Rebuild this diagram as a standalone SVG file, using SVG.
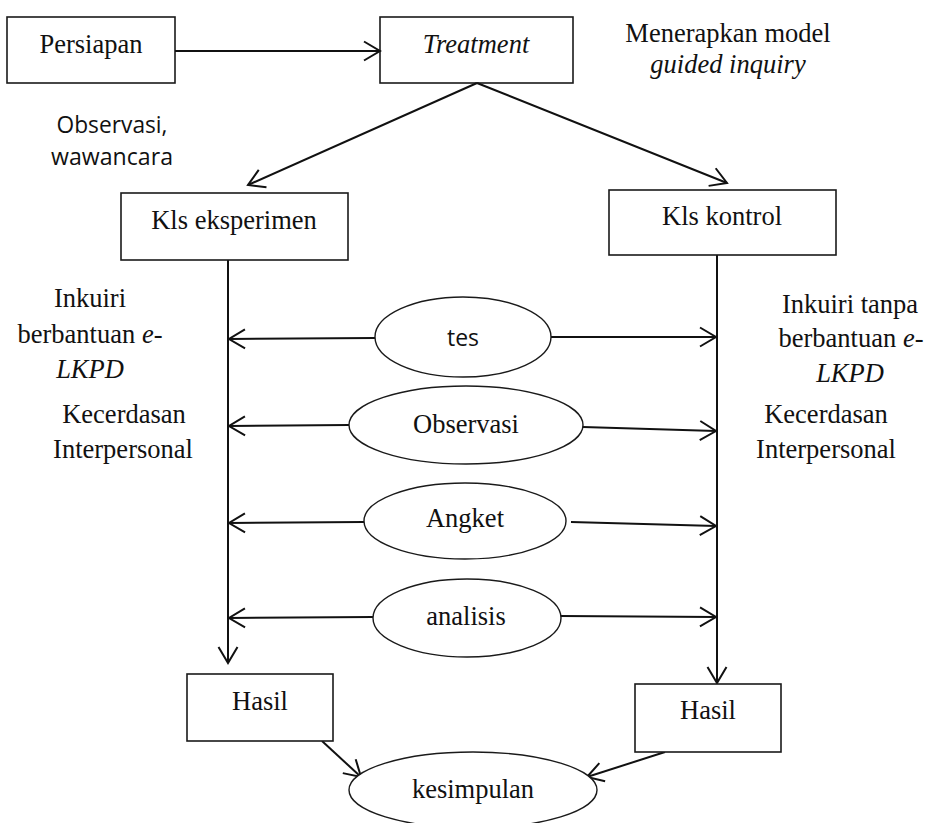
<svg xmlns="http://www.w3.org/2000/svg" width="925" height="823" viewBox="0 0 925 823">
<style>
.box{fill:#fff;stroke:#1a1a1a;stroke-width:1.6}
.ell{fill:#fff;stroke:#1a1a1a;stroke-width:1.4}
.ser{font-family:"Liberation Serif","Times New Roman",serif;font-size:26.5px;fill:#111;text-anchor:middle}
.it{font-style:italic}
.sans{font-family:"Open Sans","Noto Sans",sans-serif;font-size:23.5px;fill:#111;text-anchor:middle}
.con line{stroke:#111;stroke-width:2;fill:none;marker-end:url(#arr)}
</style>
<defs>
<marker id="arr" markerUnits="userSpaceOnUse" viewBox="-19 -11 21 22" markerWidth="21" markerHeight="22" refX="0" refY="0" orient="auto">
<path d="M-16,-9.5 L0,0 L-16,9.5" fill="none" stroke="#111" stroke-width="2"/>
</marker>
</defs>
<rect width="925" height="823" fill="#fff"/>

<g id="persiapan"><rect class="box" x="7" y="17" width="168" height="66"/><text class="ser" x="91" y="53">Persiapan</text></g>
<g id="treatment"><rect class="box" x="380" y="17" width="193" height="66"/><text class="ser it" x="476" y="53">Treatment</text></g>
<g id="note-model"><text class="ser" x="728" y="42">Menerapkan model</text><text class="ser it" x="728" y="73">guided inquiry</text></g>
<g id="note-obs"><text class="sans" x="112" y="133" textLength="111" lengthAdjust="spacingAndGlyphs">Observasi,</text><text class="sans" x="112" y="165" textLength="122" lengthAdjust="spacingAndGlyphs">wawancara</text></g>

<g class="con" id="connectors">
<line x1="175" y1="51" x2="380" y2="51"/>
<line x1="477" y1="83" x2="248" y2="185"/>
<line x1="477" y1="83" x2="727" y2="183"/>
<line x1="228" y1="255" x2="228" y2="663"/>
<line x1="717" y1="252" x2="717" y2="683"/>
<line x1="375" y1="338" x2="229" y2="339"/>
<line x1="551" y1="337" x2="716" y2="337"/>
<line x1="349" y1="425" x2="229" y2="426"/>
<line x1="583" y1="427" x2="716" y2="431"/>
<line x1="364" y1="522" x2="229" y2="523"/>
<line x1="571" y1="522" x2="716" y2="526"/>
<line x1="373" y1="617" x2="229" y2="618"/>
<line x1="561" y1="616" x2="716" y2="617"/>
<line x1="322" y1="741" x2="361" y2="777"/>
<line x1="665" y1="752" x2="587" y2="777"/>
</g>

<g id="kls-eksperimen"><rect class="box" x="121" y="193" width="227" height="67"/><text class="ser" x="234" y="229">Kls eksperimen</text></g>
<g id="kls-kontrol"><rect class="box" x="609" y="190" width="227" height="65"/><text class="ser" x="722" y="225">Kls kontrol</text></g>

<g id="label-left"><text class="ser" x="90" y="307">Inkuiri</text><text class="ser" x="90" y="343">berbantuan <tspan class="it">e</tspan>-</text><text class="ser it" x="90" y="378">LKPD</text><text class="ser" x="124" y="423">Kecerdasan</text><text class="ser" x="123" y="458">Interpersonal</text></g>
<g id="label-right"><text class="ser" x="850" y="313">Inkuiri tanpa</text><text class="ser" x="851" y="347">berbantuan <tspan class="it">e</tspan>-</text><text class="ser it" x="850" y="382">LKPD</text><text class="ser" x="826" y="423">Kecerdasan</text><text class="ser" x="826" y="458">Interpersonal</text></g>

<g id="tes"><ellipse class="ell" cx="463" cy="337" rx="88" ry="40"/><text class="sans" x="463" y="346" textLength="32" lengthAdjust="spacingAndGlyphs">tes</text></g>
<g id="observasi"><ellipse class="ell" cx="466" cy="425" rx="117" ry="39"/><text class="ser" x="466" y="433">Observasi</text></g>
<g id="angket"><ellipse class="ell" cx="465" cy="521" rx="101" ry="38"/><text class="ser" x="465" y="527">Angket</text></g>
<g id="analisis"><ellipse class="ell" cx="467" cy="618" rx="94" ry="39"/><text class="ser" x="466" y="625">analisis</text></g>

<g id="hasil-left"><rect class="box" x="187" y="674" width="146" height="67"/><text class="ser" x="260" y="710">Hasil</text></g>
<g id="hasil-right"><rect class="box" x="635" y="684" width="146" height="68"/><text class="ser" x="708" y="719">Hasil</text></g>
<g id="kesimpulan"><ellipse class="ell" cx="473" cy="790" rx="124" ry="38"/><text class="ser" x="473" y="798">kesimpulan</text></g>
</svg>
